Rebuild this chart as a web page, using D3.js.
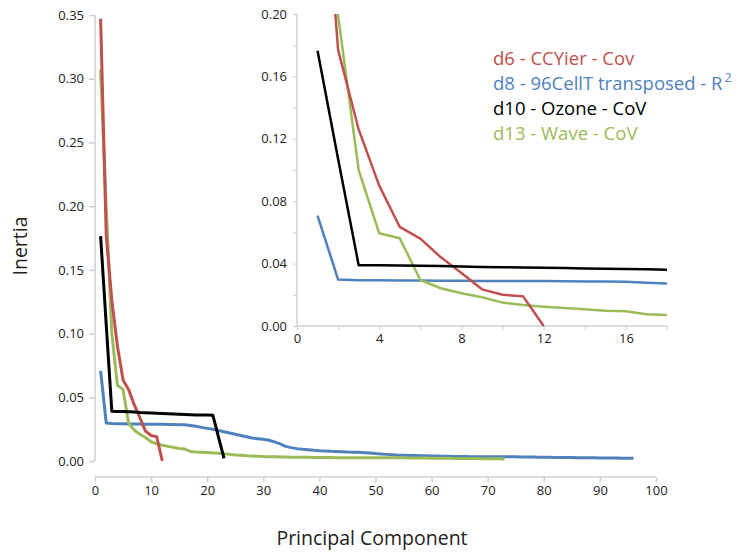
<!DOCTYPE html>
<html><head><meta charset="utf-8">
<script src="https://cdn.jsdelivr.net/npm/d3@7"></script>
<style>
body{margin:0;background:#fff;}
text{font-family:"Open Sans",sans-serif;}
</style></head>
<body><svg id="c" width="747" height="554"></svg>
<script>
const seriesNames = ["d6 - CCYier - Cov", "d8 - 96CellT transposed - R", "d10 - Ozone - CoV", "d13 - Wave - CoV"];
const seriesColors = ["#c0504d", "#4f81bd", "#000000", "#9bbb59"];
const d6 = [0.347,0.177,0.126,0.090,0.0635,0.056,0.044,0.034,0.0235,0.020,0.019,0.0];
const d8 = [0.0707,0.0298,0.0294,0.0293,0.0292,0.0291,0.0290,0.0290,0.0289,0.0289,0.0288,0.0288,0.0287,0.0286,0.0285,0.0284,0.0278,0.0272,
  0.0264,0.0256,0.0249,0.0240,0.0230,0.0220,0.0210,0.0200,0.0190,0.0180,0.0175,0.0170,0.0163,0.0150,0.0135,0.0115,0.0105,0.0097,0.0092,0.0088,0.0084,0.0081,
  0.0079,0.0076,0.0074,0.0072,0.0070,0.0069,0.0068,0.0065,0.0062,0.0058,0.0055,0.0052,0.0049,0.0046,0.0045,0.0044,0.0043,0.0042,0.0041,0.0040,
  0.0039,0.0038,0.0037,0.0036,0.0035,0.0035,0.0034,0.0034,0.0034,0.0034,0.0034,0.0034,0.0033,0.0033,0.0033,0.0032,0.0032,0.0031,0.0030,0.0029,
  0.0029,0.0028,0.0028,0.0027,0.0027,0.0026,0.0026,0.0025,0.0025,0.0024,0.0024,0.0023,0.0023,0.0022,0.0022,0.0021];
const d10 = [0.1765,0.107,0.0390,0.0389,0.0388,0.0386,0.0384,0.0381,0.0379,0.0377,0.0375,0.0373,0.0371,0.0369,0.0367,0.0365,0.0363,0.0361,0.0361,0.0361,0.0360,0.019,0.002];
const d13 = [0.307,0.199,0.100,0.0594,0.0562,0.0295,0.0242,0.021,0.0184,0.0150,0.0135,0.0124,0.0115,0.0107,0.0098,0.0094,0.0075,0.0070,
  0.0068,0.0066,0.0063,0.0060,0.0056,0.0052,0.0048,0.0045,0.0042,0.0040,0.0037,0.0035,0.0034,0.0033,0.0032,0.0031,0.0030,0.0030,0.0029,0.0029,0.0028,0.0028,
  0.0027,0.0027,0.0026,0.0026,0.0026,0.0026,0.0026,0.0026,0.0026,0.0026,0.0025,0.0025,0.0025,0.0025,0.0025,0.0024,0.0024,0.0023,0.0023,0.0022,
  0.0022,0.0021,0.0021,0.0020,0.0020,0.0020,0.0019,0.0019,0.0018,0.0018,0.0017,0.0017,0.0013];
const mainXTicks = [0,10,20,30,40,50,60,70,80,90,100];
const mainYTicks = [0,0.05,0.10,0.15,0.20,0.25,0.30,0.35];
const insetXTicks = [0,4,8,12,16];
const insetYTicks = [0,0.04,0.08,0.12,0.16,0.20];
const xLabel = "Principal Component";
const yLabel = "Inertia";

const series = [d6, d8, d10, d13];
const drawOrder = [1, 3, 0, 2];
const svg = d3.select("#c");
const axisColor = "#cfcfcf";
const textColor = "#222";

// Main chart
const x = d3.scaleLinear().domain([0,100]).range([95,656]);
const y = d3.scaleLinear().domain([0,0.35]).range([461,15]);

const yAx = svg.append("g").attr("transform","translate(95,0)")
  .call(d3.axisLeft(y).tickValues(mainYTicks).tickFormat(d3.format(".2f")).tickSize(6).tickPadding(5));
const xAx = svg.append("g").attr("transform","translate(0,477)")
  .call(d3.axisBottom(x).tickValues(mainXTicks).tickSize(5).tickPadding(4));
[yAx,xAx].forEach(g=>{
  g.select(".domain").attr("stroke",axisColor).attr("stroke-width",1.5);
  g.selectAll(".tick line").attr("stroke",axisColor).attr("stroke-width",1.5);
  g.selectAll(".tick text").attr("fill",textColor).style("font-size","13px").style("font-family","'Open Sans',sans-serif");
});
xAx.select(".domain").attr("d","M95,0H656");
yAx.select(".domain").attr("d","M0,15V461");

const lineMain = d3.line().x((d,i)=>x(i+1)).y(d=>y(d));
drawOrder.forEach(k=>{
  svg.append("path").datum(series[k]).attr("d",lineMain)
    .attr("fill","none").attr("stroke",seriesColors[k]).attr("stroke-width",3).attr("stroke-linejoin","round");
});

svg.append("text").attr("x",372).attr("y",545).attr("text-anchor","middle")
  .style("font-size","19.5px").attr("fill",textColor).text(xLabel);
svg.append("text").attr("transform","translate(27,246) rotate(-90)").attr("text-anchor","middle")
  .style("font-size","19.5px").attr("fill",textColor).text(yLabel);

// Inset
const xi = d3.scaleLinear().domain([0,18]).range([297,667]);
const yi = d3.scaleLinear().domain([0,0.2]).range([326,14]);
svg.append("rect").attr("x",297).attr("y",10).attr("width",375).attr("height",318).attr("fill","#fff");
const yiAx = svg.append("g").attr("transform","translate(297,0)")
  .call(d3.axisLeft(yi).tickValues(d3.range(0,0.2001,0.02)).tickFormat(d=>insetYTicks.some(t=>Math.abs(t-d)<1e-9)?d3.format(".2f")(d):"").tickSize(4).tickPadding(6));
const xiAx = svg.append("g").attr("transform","translate(0,326)")
  .call(d3.axisBottom(xi).tickValues(d3.range(0,19,2)).tickFormat(d=>insetXTicks.includes(d)?d:"").tickSize(4).tickPadding(4));
[yiAx,xiAx].forEach(g=>{
  g.select(".domain").attr("stroke",axisColor).attr("stroke-width",1.5);
  g.selectAll(".tick line").attr("stroke",axisColor).attr("stroke-width",1);
  g.selectAll(".tick text").attr("fill",textColor).style("font-size","13px").style("font-family","'Open Sans',sans-serif");
});
xiAx.select(".domain").attr("d","M297,0H667");
yiAx.select(".domain").attr("d","M0,14V326");

svg.append("clipPath").attr("id","ic").append("rect").attr("x",296).attr("y",14).attr("width",374).attr("height",314);
const lineInset = d3.line().x((d,i)=>xi(i+1)).y(d=>yi(d));
const ig = svg.append("g").attr("clip-path","url(#ic)");
drawOrder.forEach(k=>{
  ig.append("path").datum(series[k].slice(0,18)).attr("d",lineInset)
    .attr("fill","none").attr("stroke",seriesColors[k]).attr("stroke-width",2.5).attr("stroke-linejoin","round");
});

// Legend
const lg = svg.append("g");
seriesNames.forEach((n,i)=>{
  const t = lg.append("text").attr("x",493).attr("y",65+i*25).attr("fill",seriesColors[i])
    .style("font-size","18.5px").text(n);
  if(i===1){ t.append("tspan").attr("dx",2).attr("dy",-8).style("font-size","12.5px").text("2"); }
});
</script></body></html>
